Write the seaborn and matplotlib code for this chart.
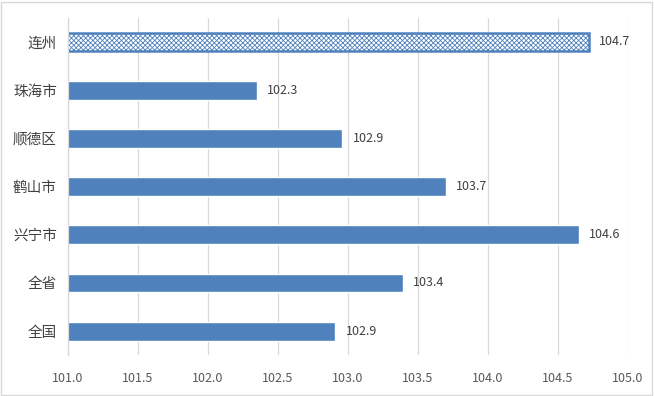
import pandas as pd
import matplotlib.pyplot as plt
import seaborn as sns

regions = ['连州', '珠海市', '顺德区', '鹤山市', '兴宁市', '全省', '全国']
values = [104.72, 102.35, 102.96, 103.70, 104.65, 103.39, 102.91]
value_labels = ['104.7', '102.3', '102.9', '103.7', '104.6', '103.4', '102.9']
x_ticks = [101.0, 101.5, 102.0, 102.5, 103.0, 103.5, 104.0, 104.5, 105.0]

df = pd.DataFrame({'region': regions, 'value': values})

sns.set_style('white')
plt.rcParams['font.family'] = ['Noto Sans CJK SC', 'DejaVu Sans']
plt.rcParams['hatch.linewidth'] = 0.6

blue = '#4F81BD'
fig = plt.figure(figsize=(6.54, 3.96), dpi=100)
ax = fig.add_axes([0.104, 0.103, 0.856, 0.852])

sns.barplot(data=df, y='region', x='value', orient='h', color=blue,
            width=0.39, saturation=1, ax=ax)

# highlighted bar: white with dense cross hatch
first = ax.patches[0]
first.set_facecolor('white')
first.set_edgecolor(blue)
first.set_hatch('xxxxxxx')
first.set_linewidth(1.8)

ax.set_xlim(101.0, 105.0)
ax.set_xticks(x_ticks)
ax.set_xticklabels([f'{t:.1f}' for t in x_ticks])
ax.set_xlabel('')
ax.set_ylabel('')
ax.xaxis.grid(True, color='#d9d9d9', linewidth=0.9)
ax.set_axisbelow(True)

for v, lab, p in zip(values, value_labels, ax.patches):
    ax.annotate(lab, (v, p.get_y() + p.get_height() / 2),
                xytext=(7.5, 0), textcoords='offset points', va='center',
                ha='left', fontsize=9, color='#404040')

ax.tick_params(axis='x', length=0, pad=12, labelsize=9, labelcolor='#595959')
ax.tick_params(axis='y', length=0, pad=8, labelsize=10.5, labelcolor='#404040')

for s in ['top', 'right', 'bottom']:
    ax.spines[s].set_visible(False)
ax.spines['left'].set_color('#d9d9d9')
ax.spines['left'].set_linewidth(0.9)

# thin chart border
fig.patches.append(plt.Rectangle((0.002, 0.003), 0.995, 0.993, transform=fig.transFigure,
                                 fill=False, edgecolor='#d9d9d9', linewidth=1))

fig.savefig('out.png', dpi=100)
